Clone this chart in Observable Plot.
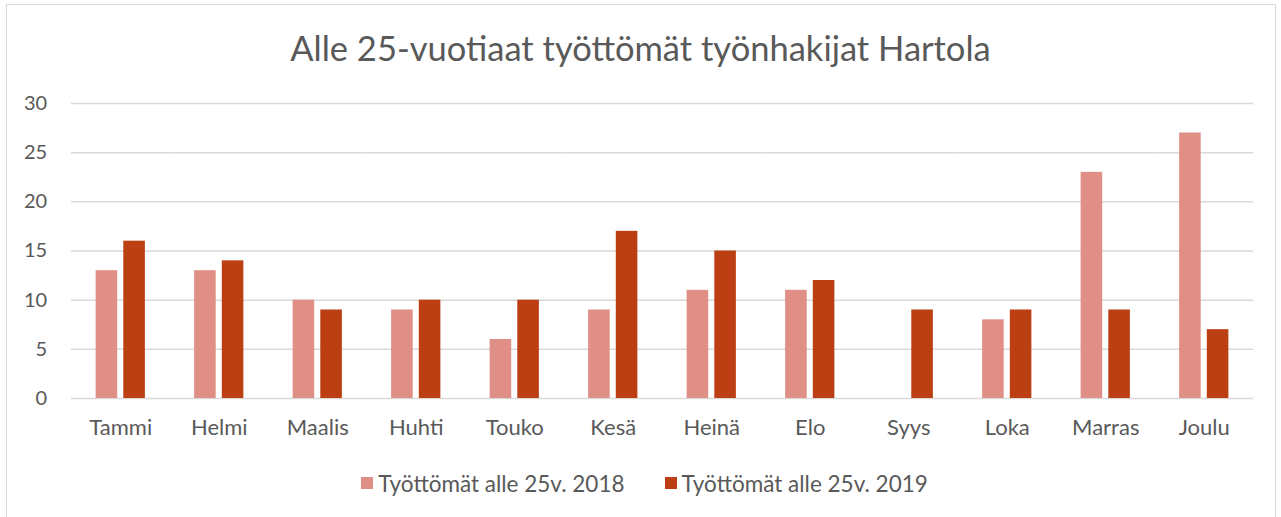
<!DOCTYPE html>
<html><head><meta charset="utf-8">
<script src="https://cdn.jsdelivr.net/npm/d3@7"></script>
<script src="https://cdn.jsdelivr.net/npm/@observablehq/plot@0.6"></script>
<style>
body{margin:0;background:#fff;font-family:Lato,"Open Sans",sans-serif;}
#wrap{position:relative;width:1281px;height:517px;overflow:hidden;}
#frame{position:absolute;left:6px;top:4px;width:1270px;height:530px;border:1.5px solid #d9d9d9;box-sizing:border-box;}
#title{position:absolute;left:0;top:0;width:1281px;height:90px;line-height:96px;text-align:center;font-size:34.5px;color:#595959;}
#chart{position:absolute;left:0;top:90px;}
#legend{position:absolute;left:0;top:467px;width:1281px;text-align:center;font-size:22.5px;color:#595959;padding-left:8px;box-sizing:border-box;}
.item{display:inline-flex;align-items:center;margin:0 20px;}
.sw{width:12px;height:12px;display:inline-block;margin-right:5px;}
</style></head>
<body><div id="wrap"><div id="frame"></div><div id="title"></div><div id="chart"></div><div id="legend"></div></div>
<script>
const title = "Alle 25-vuotiaat työttömät työnhakijat Hartola";
const months = ["Tammi","Helmi","Maalis","Huhti","Touko","Kesä","Heinä","Elo","Syys","Loka","Marras","Joulu"];
const series = ["Työttömät alle 25v. 2018","Työttömät alle 25v. 2019"];
const values2018 = [13,13,10,9,6,9,11,11,null,8,23,27];
const values2019 = [16,14,9,10,10,17,15,12,9,9,9,7];
const yTicks = [0,5,10,15,20,25,30];
const colors = ["#E08F86","#BC3F14"];

const data = [];
months.forEach((m,i)=>{
  if (values2018[i] != null) data.push({month:m, series:series[0], value:values2018[i]});
  if (values2019[i] != null) data.push({month:m, series:series[1], value:values2019[i]});
});

document.getElementById("title").textContent = title;

const W = 1281, mL = 71, mR = 28;
const step = (W - mL - mR) / 12;   // fx band step (paddingInner .5, paddingOuter .25)
const ext = -step * 0.25;           // extend gridlines across facet gaps

const plot = Plot.plot({
  width: W, height: 360,
  marginLeft: mL, marginRight: mR, marginTop: 13, marginBottom: 52,
  style: {fontFamily: "Lato, 'Open Sans', sans-serif", fontSize: "20px", color: "#595959", background: "transparent"},
  fx: {domain: months, paddingInner: 0.5, paddingOuter: 0.25, round: false, label: null},
  x: {domain: series, axis: null, paddingInner: 0.22, paddingOuter: 0, round: false},
  y: {domain: [0,30], ticks: yTicks, label: null, tickSize: 0, tickPadding: 49},
  color: {domain: series, range: colors},
  marks: [
    Plot.ruleY(yTicks, {stroke: "#d9d9d9", strokeWidth: 1.5, insetLeft: ext, insetRight: ext}),
    Plot.barY(data, {fx: "month", x: "series", y: "value", fill: "series"}),
    Plot.axisFx({anchor: "bottom", tickSize: 0, tickPadding: 21, fontSize: 22, label: null})
  ]
});
document.getElementById("chart").appendChild(plot);

const lg = document.getElementById("legend");
series.forEach((s,i)=>{
  const it = document.createElement("span"); it.className="item";
  const sw = document.createElement("span"); sw.className="sw"; sw.style.background=colors[i];
  it.appendChild(sw); it.appendChild(document.createTextNode(s)); lg.appendChild(it);
});
</script></body></html>
